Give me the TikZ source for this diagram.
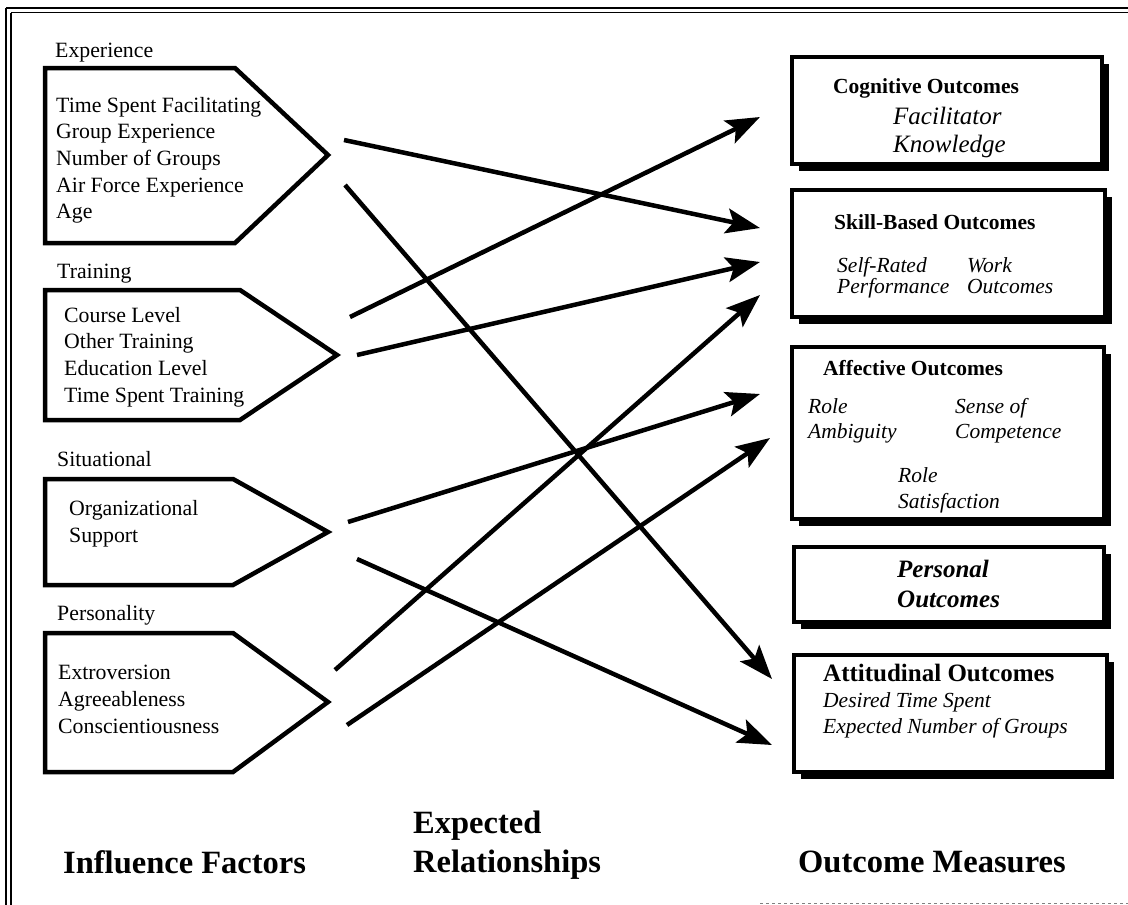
\documentclass[tikz,border=0pt]{standalone}
\usepackage{fontspec}
\setmainfont{Liberation Serif}
\usetikzlibrary{arrows.meta,shadows}
\begin{document}
\begin{tikzpicture}[x=1pt,y=-1pt,
  pent/.style={line width=4.5pt, line join=miter},
  lab/.style={anchor=base west, inner sep=0pt, font=\fontsize{21.8}{26}\selectfont},
  ttl/.style={anchor=base west, inner sep=0pt, font=\fontsize{32.5}{38}\selectfont\bfseries},
  hd/.style={anchor=base west, inner sep=0pt, font=\fontsize{21.5}{26}\selectfont\bfseries},
  hdb/.style={anchor=base west, inner sep=0pt, font=\fontsize{25}{30}\selectfont\bfseries},
  it/.style={anchor=base west, inner sep=0pt, font=\fontsize{21.5}{26}\selectfont\itshape},
  itb/.style={anchor=base west, inner sep=0pt, font=\fontsize{25}{30}\selectfont\itshape},
  bit/.style={anchor=base west, inner sep=0pt, font=\fontsize{25}{30}\selectfont\bfseries\itshape},
  obox/.style={draw, line width=4pt, fill=white, anchor=north west, inner sep=0pt,
    drop shadow={fill=black, opacity=1, shadow xshift=7pt, shadow yshift=-7pt}},
  arr/.style={line width=4.5pt, -{Stealth[length=34pt,width=25pt,inset=7pt]}},
  frm/.style={line width=1.6pt}
]
\useasboundingbox (0,0) rectangle (1128,905);
% frame
\draw[frm] (6,8) -- (1128,8);
\draw[frm] (11,12.5) -- (1128,12.5);
\draw[frm] (6,8) -- (6,905);
\draw[frm] (11,12.5) -- (11,905);
\draw[line width=1pt, gray, dashed] (760,903) -- (1128,903);

% left: influence factors
\node[lab] (hExp) at (55,57) {Experience};
\draw[pent] (45,68) -- (235,68) -- (328,155) -- (235,243) -- (45,243) -- cycle;
\node[lab] (e1) at (56,112) {Time Spent Facilitating};
\node[lab] (e2) at (56,138) {Group Experience};
\node[lab] (e3) at (56,165) {Number of Groups};
\node[lab] (e4) at (56,192) {Air Force Experience};
\node[lab] (e5) at (56,218) {Age};

\node[lab] (hTr) at (57,278) {Training};
\draw[pent] (45,290) -- (240,290) -- (337,355) -- (240,420) -- (45,420) -- cycle;
\node[lab] (t1) at (64,322) {Course Level};
\node[lab] (t2) at (64,348) {Other Training};
\node[lab] (t3) at (64,375) {Education Level};
\node[lab] (t4) at (64,402) {Time Spent Training};

\node[lab] (hSi) at (57,466) {Situational};
\draw[pent] (45,479) -- (233,479) -- (328,532) -- (233,585) -- (45,585) -- cycle;
\node[lab] (s1) at (69,515) {Organizational};
\node[lab] (s2) at (69,542) {Support};

\node[lab] (hPe) at (57,620) {Personality};
\draw[pent] (45,633) -- (233,633) -- (328,702) -- (233,772) -- (45,772) -- cycle;
\node[lab] (p1) at (58,679) {Extroversion};
\node[lab] (p2) at (58,706) {Agreeableness};
\node[lab] (p3) at (58,733) {Conscientiousness};

% titles
\node[ttl] (tInf) at (63,873) {Influence Factors};
\node[ttl] (tExp) at (413,833) {Expected};
\node[ttl] (tRel) at (413,872) {Relationships};
\node[ttl] (tOut) at (798,872) {Outcome Measures};

% right: outcome boxes
\node[obox, minimum width=310pt, minimum height=107pt] (bCog) at (790,55) {};
\node[hd] (cog0) at (833,93) {Cognitive Outcomes};
\node[itb] (cog1) at (893,124) {Facilitator};
\node[itb] (cog2) at (893,152) {Knowledge};

\node[obox, minimum width=313pt, minimum height=127pt] (bSk) at (790,188) {};
\node[hd] (sk0) at (834,229) {Skill-Based Outcomes};
\node[it] (sk1) at (837,272) {Self-Rated};
\node[it] (sk2) at (837,293) {Performance};
\node[it] (sk3) at (967,272) {Work};
\node[it] (sk4) at (967,293) {Outcomes};

\node[obox, minimum width=312pt, minimum height=172pt] (bAf) at (790,345) {};
\node[hd] (af0) at (823,375) {Affective Outcomes};
\node[it] (af1) at (808,413) {Role};
\node[it] (af2) at (808,438) {Ambiguity};
\node[it] (af3) at (955,413) {Sense of};
\node[it] (af4) at (955,438) {Competence};
\node[it] (af5) at (898,482) {Role};
\node[it] (af6) at (898,508) {Satisfaction};

\node[obox, minimum width=310pt, minimum height=75pt] (bPe) at (792,545) {};
\node[bit] (pe1) at (897,577) {Personal};
\node[bit] (pe2) at (897,607) {Outcomes};

\node[obox, minimum width=313pt, minimum height=117pt] (bAt) at (792,653) {};
\node[hdb] (at0) at (823,681) {Attitudinal Outcomes};
\node[it] (at1) at (823,707) {Desired Time Spent};
\node[it] (at2) at (823,733) {Expected Number of Groups};

% connector endpoints
\coordinate (a1s) at (344,140); \coordinate (a1e) at (760,228);
\coordinate (a2s) at (345,185); \coordinate (a2e) at (772,679);
\coordinate (a3s) at (350,317); \coordinate (a3e) at (760,117);
\coordinate (a4s) at (357,355); \coordinate (a4e) at (760,262);
\coordinate (a5s) at (348,522); \coordinate (a5e) at (760,394);
\coordinate (a6s) at (335,670); \coordinate (a6e) at (760,295);
\coordinate (a7s) at (347,725); \coordinate (a7e) at (770,438);
\coordinate (a8s) at (357,559); \coordinate (a8e) at (772,745);

\draw[arr] (a1s) -- (a1e);
\draw[arr] (a2s) -- (a2e);
\draw[arr] (a3s) -- (a3e);
\draw[arr] (a4s) -- (a4e);
\draw[arr] (a5s) -- (a5e);
\draw[arr] (a6s) -- (a6e);
\draw[arr] (a7s) -- (a7e);
\draw[arr] (a8s) -- (a8e);
\end{tikzpicture}
\end{document}
